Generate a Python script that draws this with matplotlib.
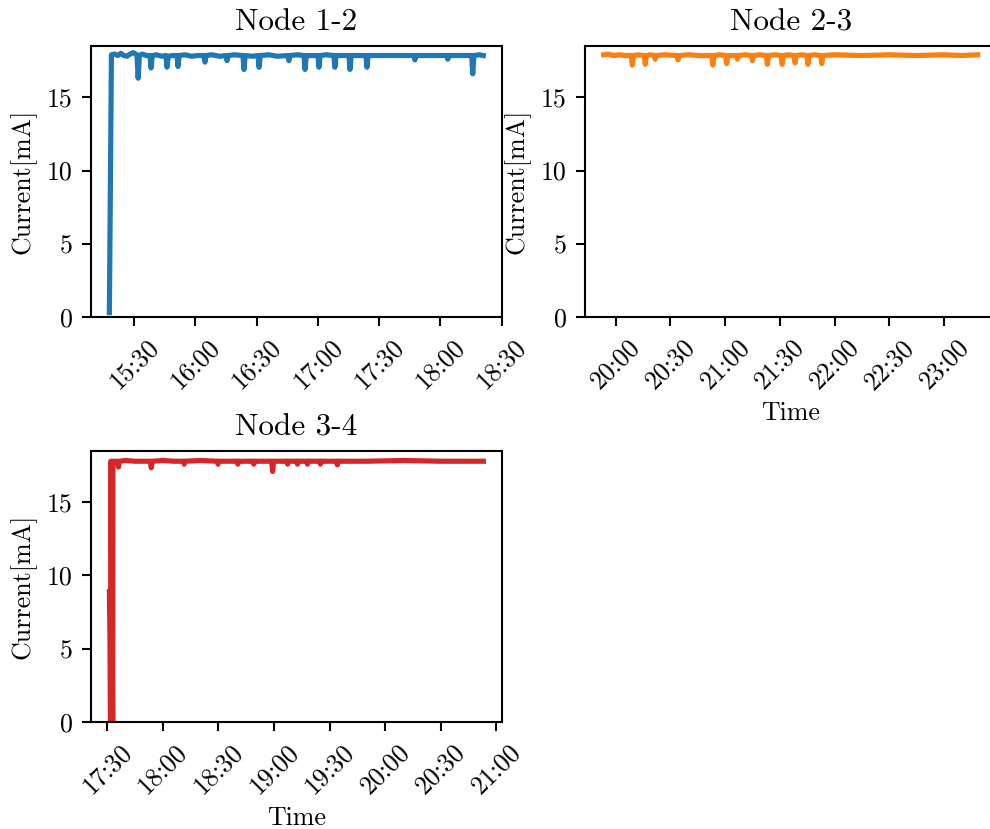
import datetime as dt

import matplotlib
matplotlib.use("Agg")
import matplotlib.pyplot as plt
import matplotlib.dates as mdates
import numpy as np

plt.rcParams['font.family'] = ['cmr10', 'DejaVu Serif']
plt.rcParams['mathtext.fontset'] = 'cm'
plt.rcParams['axes.unicode_minus'] = False

# Node 1-2, minutes after 15:00
t12 = [17.9, 18.9, 20.5, 22.0, 23.5, 25.0, 26.5, 28.0, 29.5, 31.4, 32.0, 32.6,
       34.0, 36.0, 37.8, 38.3, 38.9, 41.0, 43.5, 45.6, 46.1, 46.7, 49.0, 51.0,
       51.5, 52.1, 55.0, 58.0, 61.0, 64.2, 64.7, 65.3, 68.0, 72.0, 75.0, 75.5,
       76.1, 79.0, 83.3, 83.8, 84.4, 88.0, 90.7, 91.2, 91.8, 96.0, 100.0, 105.3,
       105.8, 106.4, 110.0, 113.2, 113.7, 114.3, 117.0, 120.0, 120.5, 121.1,
       124.0, 127.8, 128.3, 128.9, 132.0, 135.2, 135.7, 136.3, 140.0, 143.5,
       144.0, 144.6, 150.0, 156.0, 162.0, 167.0, 167.5, 168.1, 175.0, 183.1,
       183.6, 184.2, 190.0, 195.3, 195.8, 196.4, 199.0, 201.0]
i12 = [0.3, 17.9, 17.95, 17.85, 18.0, 17.85, 17.8, 17.95, 18.05, 17.9, 16.3, 17.85,
       17.95, 17.85, 17.85, 17.0, 17.85, 17.9, 17.8, 17.85, 17.05, 17.8, 17.85, 17.85,
       17.1, 17.85, 17.9, 17.8, 17.85, 17.85, 17.4, 17.85, 17.9, 17.8, 17.85, 17.5,
       17.85, 17.9, 17.85, 16.9, 17.85, 17.8, 17.85, 17.05, 17.85, 17.9, 17.8, 17.85,
       17.5, 17.85, 17.9, 17.85, 16.9, 17.85, 17.85, 17.85, 17.05, 17.85,
       17.9, 17.85, 17.05, 17.85, 17.85, 17.85, 16.9, 17.85, 17.85, 17.85,
       17.05, 17.85, 17.85, 17.85, 17.85, 17.85, 17.55, 17.85, 17.85, 17.85,
       17.6, 17.85, 17.85, 17.85, 16.6, 17.85, 17.9, 17.85]

# Node 2-3, minutes after 20:00
t23 = [-6.5, -4.0, -1.0, 2.0, 5.0, 8.6, 9.2, 9.8, 12.0, 15.7, 16.3, 16.9, 19.0,
       21.2, 21.7, 22.2, 27.0, 33.7, 34.2, 34.7, 40.0, 46.0, 52.7, 53.3, 53.9,
       57.0, 60.3, 60.9, 61.5, 66.3, 66.8, 67.3, 71.0, 74.5, 75.0, 75.5, 79.0,
       82.6, 83.2, 83.8, 87.0, 90.7, 91.3, 91.9, 95.0, 97.8, 98.4, 99.0, 102.0,
       104.8, 105.4, 106.0, 109.0, 112.4, 113.0, 113.6, 120.0, 135.0, 150.0,
       165.0, 180.0, 190.0, 198.4]
i23 = [17.9, 17.95, 17.85, 17.9, 17.85, 17.85, 17.2, 17.85, 17.9, 17.85, 17.25, 17.85, 17.9,
       17.85, 17.6, 17.85, 17.9, 17.85, 17.55, 17.85, 17.9, 17.85, 17.85, 17.2, 17.85,
       17.9, 17.85, 17.3, 17.85, 17.85, 17.6, 17.85, 17.9, 17.85, 17.5, 17.85, 17.9,
       17.85, 17.25, 17.85, 17.9, 17.85, 17.25, 17.85, 17.9, 17.85, 17.35, 17.85, 17.9,
       17.85, 17.25, 17.85, 17.9, 17.85, 17.3, 17.85, 17.9, 17.85, 17.9,
       17.85, 17.9, 17.85, 17.9]

# Node 3-4, minutes after 17:30
t34 = [1.2, 1.5, 1.8, 2.0, 3.0, 3.1, 4.5, 5.6, 6.1, 6.6, 10.0, 15.0, 20.0, 23.3,
       23.8, 24.3, 30.0, 36.0, 41.3, 41.6, 41.9, 50.0, 59.5, 59.8, 60.1, 70.2,
       70.5, 70.8, 78.8, 79.1, 79.4, 88.8, 89.3, 89.8, 97.1, 97.4, 97.7, 102.4,
       102.7, 103.0, 107.8, 108.1, 108.4, 114.8, 115.1, 115.4, 123.9, 124.2,
       124.5, 140.0, 160.0, 180.0, 203.0]
i34 = [8.9, 6.0, 0.0, 17.8, 0.0, 17.8, 17.8, 17.8, 17.4, 17.8, 17.85, 17.8, 17.8, 17.8,
       17.35, 17.8, 17.85, 17.8, 17.8, 17.6, 17.8, 17.85, 17.8, 17.6, 17.8, 17.8,
       17.6, 17.8, 17.8, 17.6, 17.8, 17.8, 17.1, 17.8, 17.8, 17.6, 17.8, 17.8,
       17.6, 17.8, 17.8, 17.6, 17.8, 17.8, 17.6, 17.8, 17.8, 17.55,
       17.8, 17.8, 17.85, 17.8, 17.8]

day = dt.datetime(2023, 5, 10)
nodes = [
    ("Node 1-2", t12, i12, 15, 0, "tab:blue"),
    ("Node 2-3", t23, i23, 20, 0, "tab:orange"),
    ("Node 3-4", t34, i34, 17, 30, "tab:red"),
]

fig = plt.figure(figsize=(990 / 187, 829 / 187), dpi=187)
rects = [
    [0.0916, 0.6176, 0.4155, 0.3269],
    [0.5909, 0.6176, 0.4155, 0.3269],
    [0.0916, 0.1291, 0.4155, 0.3269],
]

for k, (name, tm, cur, hh, mm, color) in enumerate(nodes):
    ax = fig.add_axes(rects[k])
    start = mdates.date2num(day.replace(hour=hh, minute=mm))
    x = start + np.array(tm) / 1440.0
    ax.plot(x, cur, color=color, lw=2.0)
    ax.set_ylim(0, 18.5)
    ax.set_yticks([0, 5, 10, 15])
    ax.xaxis.set_major_locator(mdates.MinuteLocator(byminute=[0, 30]))
    ax.xaxis.set_major_formatter(mdates.DateFormatter('%H:%M'))
    for lbl in ax.get_xticklabels():
        lbl.set_rotation(45)
    ax.set_title(name)
    ax.set_ylabel('Current[mA]')
    if k > 0:
        ax.set_xlabel('Time', labelpad=2.8)

fig.savefig('out.png', dpi=187)
